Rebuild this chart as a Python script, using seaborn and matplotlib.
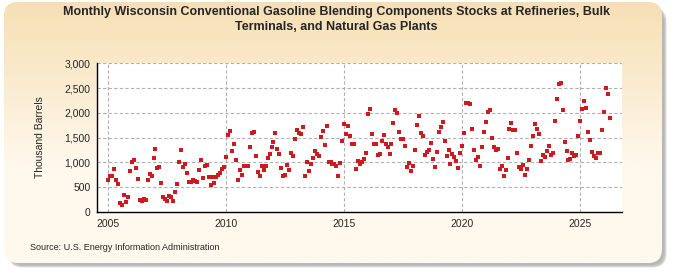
import numpy as np
import pandas as pd
import matplotlib
matplotlib.use("Agg")
import matplotlib.pyplot as plt
import seaborn as sns
from matplotlib.patches import FancyBboxPatch
from matplotlib.ticker import FuncFormatter

# ---------------- data ----------------
first_month = "2005-01-01"
stocks = [
    650, 715, 730, 855, 650, 550, 170, 145, 330, 200, 295, 830,
    995, 1055, 875, 670, 245, 216, 256, 243, 650, 770, 730, 1090,
    1275, 875, 895, 590, 290, 258, 210, 320, 300, 220, 390, 570,
    995, 1255, 895, 970, 785, 605, 596, 640, 616, 596, 837, 1038,
    677, 918, 938, 697, 536, 710, 590, 710, 740, 775, 860, 905,
    1115, 1555, 1633, 1237, 1378, 1050, 650, 852, 748, 930, 917, 930,
    1314, 1582, 1620, 1132, 793, 712, 914, 833, 930, 1095, 1176, 1314,
    1417, 1599, 1277, 1173, 874, 729, 752, 950, 833, 1196, 1132, 1478,
    1660, 1599, 1579, 1720, 728, 1011, 829, 971, 1092, 1233, 1173, 1132,
    1517, 1638, 1355, 1739, 1011, 998, 971, 957, 930, 728, 991, 1436,
    1779, 1577, 1739, 1537, 1375, 1375, 869, 1024, 971, 1011, 1072, 1193,
    1985, 2085, 1570, 1375, 1375, 1153, 1173, 1436, 1550, 1375, 1314, 1173,
    1375, 1800, 2062, 2002, 1618, 1476, 1476, 1335, 910, 991, 829, 930,
    1254, 1759, 1941, 1597, 1537, 1153, 1213, 1254, 1395, 1072, 910, 1213,
    1618, 1719, 1820, 1436, 1132, 1254, 971, 1173, 1112, 1031, 890, 1193,
    1335, 1597, 2204, 2195, 2180, 1680, 1257, 1055, 1115, 930, 1317, 1620,
    1821, 2022, 2063, 1498, 1317, 1250, 1277, 873, 914, 712, 833, 1095,
    1680, 1801, 1660, 1660, 1196, 894, 873, 934, 732, 873, 1055, 1337,
    1539, 1779, 1678, 1579, 1015, 1153, 1112, 1233, 1335, 1153, 1193, 1840,
    2285, 2587, 2607, 2062, 1415, 1233, 1051, 1072, 1193, 1132, 1153, 1537,
    1840, 2083, 2244, 2103, 1618, 1456, 1213, 1132, 1092, 1193, 1193, 1658,
    2022, 2507, 2386, 1901,
]
x_ticks = [2005, 2010, 2015, 2020, 2025]
y_ticks = [0, 500, 1000, 1500, 2000, 2500, 3000]

title = ("Monthly Wisconsin Conventional Gasoline Blending Components Stocks at Refineries, Bulk\n"
         "Terminals, and Natural Gas Plants")
y_label = "Thousand Barrels"
source = "Source: U.S. Energy Information Administration"

dates = pd.date_range(first_month, periods=len(stocks), freq="MS")
df = pd.DataFrame({"year": dates.year + (dates.month - 1) / 12.0, "stocks": stocks})

# ---------------- style ----------------
sns.set_style("white")
plt.rcParams["font.family"] = ["Liberation Sans", "DejaVu Sans"]

W, H = 675, 275
fig = plt.figure(figsize=(W / 100, H / 100), dpi=100)

# background frame with shadow and gradient
bg = fig.add_axes([0, 0, 1, 1])
bg.set_xlim(0, W)
bg.set_ylim(H, 0)
bg.axis("off")
for i, a in enumerate([0.10, 0.14, 0.20, 0.28]):
    d = 3 - i * 0.8
    bg.add_patch(FancyBboxPatch((8 + d, 7 + d), 657 - 2 * d + 2, 259 - 2 * d + 2,
                                boxstyle="round,pad=0,rounding_size=14",
                                fc="#808080", ec="none", alpha=a))
frame = FancyBboxPatch((4, 2), 658, 261, boxstyle="round,pad=0,rounding_size=14",
                       fc="none", ec="none")
bg.add_patch(frame)
top = np.array([0xf6, 0xdf, 0xb4]) / 255
bot = np.array([0xff, 0xf8, 0xec]) / 255
t = np.linspace(0, 1, 200)[:, None]
t = np.clip(t * 1.6, 0, 1)
grad = (top[None, :] * (1 - t) + bot[None, :] * t)[:, None, :]
grad = np.repeat(grad, 2, axis=1)
im = bg.imshow(grad, extent=(4, 662, 263, 2), aspect="auto", interpolation="bilinear", zorder=1)
im.set_clip_path(frame)

# main axes
left, right, top_px, bottom_px = 97.3, 622.3, 63.3, 211.7
ax = fig.add_axes([left / W, 1 - bottom_px / H, (right - left) / W, (bottom_px - top_px) / H])
ax.set_facecolor("white")

sns.scatterplot(data=df, x="year", y="stocks", ax=ax, marker="s", s=11,
                color="#cc1a1f", linewidth=0, zorder=3)

ax.set_xlim(2004.534, 2026.78)
ax.set_ylim(0, 3000)
ax.set_xticks(x_ticks)
ax.set_yticks(y_ticks)
ax.yaxis.set_major_formatter(FuncFormatter(lambda v, p: f"{int(v):,}"))
ax.grid(True, color="#b0b0b0", linestyle=(0, (3, 2)), linewidth=0.8)
ax.set_axisbelow(True)
for s in ["top", "right"]:
    ax.spines[s].set_visible(False)
for s in ["left", "bottom"]:
    ax.spines[s].set_color("black")
    ax.spines[s].set_linewidth(1.0)
ax.tick_params(axis="both", labelsize=7.5, length=3, width=0.8, color="black",
               direction="out", pad=2)
ax.set_xlabel("")
ax.set_ylabel(y_label, fontsize=7.5)
ax.yaxis.set_label_coords((45 - left) / (right - left), 0.5)

fig.text(0.498, 1 - 19.5 / H, title, ha="center", va="center", fontsize=9,
         fontweight="bold", linespacing=1.25,
         family=["Liberation Sans Narrow", "Liberation Sans", "DejaVu Sans"])
fig.text(30 / W, 1 - 247 / H, source, fontsize=6.5, va="center")

fig.savefig("out.png", dpi=100)
